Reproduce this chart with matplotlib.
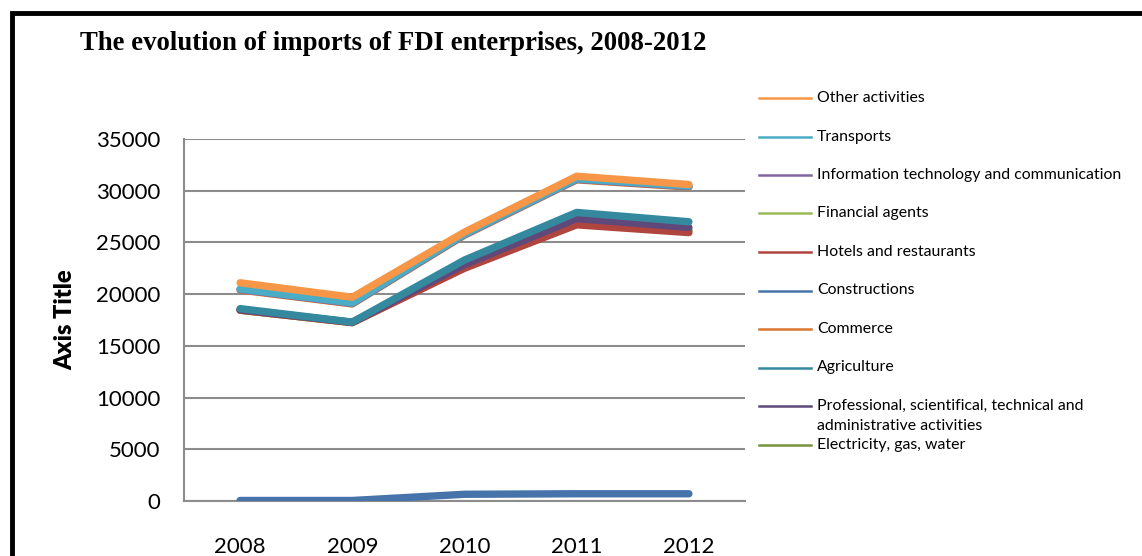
import matplotlib
matplotlib.use("Agg")
import matplotlib.pyplot as plt
from matplotlib.lines import Line2D
from matplotlib.patches import Rectangle
import numpy as np

years = ["2008", "2009", "2010", "2011", "2012"]

# values as they appear on the chart (stacked-looking lines)
other_activities = [21100, 19700, 26000, 31400, 30600]
transports = [20500, 19150, 25800, 31150, 30450]
it_communication = [20450, 19100, 25750, 31100, 30400]
financial_agents = [18450, 17250, 22650, 26950, 26200]
hotels_restaurants = [18450, 17250, 22500, 26700, 25950]
constructions = [50, 50, 650, 700, 700]
commerce = [20400, 19050, 25700, 31050, 30350]
agriculture = [18600, 17300, 23300, 27900, 27000]
professional = [18500, 17280, 22850, 27300, 26450]
electricity = [18450, 17250, 22600, 26900, 26150]

# legend order (top to bottom)
series = [
    ("Other activities", other_activities, "#F79646"),
    ("Transports", transports, "#4BACC6"),
    ("Information technology and communication", it_communication, "#8064A2"),
    ("Financial agents", financial_agents, "#9BBB59"),
    ("Hotels and restaurants", hotels_restaurants, "#B0453F"),
    ("Constructions", constructions, "#4674AA"),
    ("Commerce", commerce, "#D9762F"),
    ("Agriculture", agriculture, "#34899F"),
    ("Professional, scientifical, technical and\nadministrative activities", professional, "#5F497A"),
    ("Electricity, gas, water", electricity, "#77933C"),
]
# drawing order, first one ends up at the bottom
draw_order = [9, 3, 4, 8, 7, 6, 2, 1, 0, 5]

W, H = 1142, 556
fig = plt.figure(figsize=(W / 100, H / 100), dpi=100)
fig.patch.set_facecolor("white")

ax = fig.add_axes([184 / W, 1 - 501 / H, 561 / W, (501 - 139) / H])
x = np.arange(len(years))
for i in draw_order:
    name, vals, col = series[i]
    ax.plot(x, vals, color=col, lw=5.3, solid_capstyle="round",
            solid_joinstyle="round", zorder=3)

ax.set_xlim(-0.5, len(years) - 0.5)
ax.set_ylim(0, 35000)
ax.set_yticks(np.arange(0, 35001, 5000))
ax.set_xticks(x)
ax.set_xticklabels(years)
ax.grid(axis="y", color="#8C8C8C", lw=1.5, zorder=1)
for s in ["top", "right"]:
    ax.spines[s].set_visible(False)
for s in ["left", "bottom"]:
    ax.spines[s].set_color("#8C8C8C")
    ax.spines[s].set_linewidth(1.5)
ax.tick_params(axis="both", length=0, labelsize=16)
ax.tick_params(axis="y", pad=17)
ax.tick_params(axis="x", pad=26)
for lab in ax.get_xticklabels() + ax.get_yticklabels():
    lab.set_fontfamily("Lato")
ax.set_ylabel("Axis Title", fontfamily="Lato", fontweight="heavy", fontsize=17, labelpad=14)

fig.text(80 / W, 1 - 43 / H, "The evolution of imports of FDI enterprises, 2008-2012",
         fontfamily="Liberation Serif", fontweight="bold", fontsize=19.3,
         va="center", ha="left")

# legend drawn by hand to follow the original spacing
y0, step = 98, 38.5
for k, (name, vals, col) in enumerate(series):
    yc = y0 + k * step
    fig.add_artist(Line2D([759 / W, 811 / W], [1 - yc / H, 1 - yc / H],
                          color=col, lw=1.8, transform=fig.transFigure))
    for j, line in enumerate(name.split("\n")):
        fig.text(817 / W, 1 - (yc + j * 20) / H, line, fontfamily="Lato",
                 fontsize=11.4, va="center", ha="left")

# outer frame
fig.add_artist(Rectangle((12 / W, -0.1), 1.2, 1 - 12.5 / H + 0.1,
                         transform=fig.transFigure, fill=False,
                         edgecolor="black", lw=3.5))

fig.savefig("out.png", dpi=100)
